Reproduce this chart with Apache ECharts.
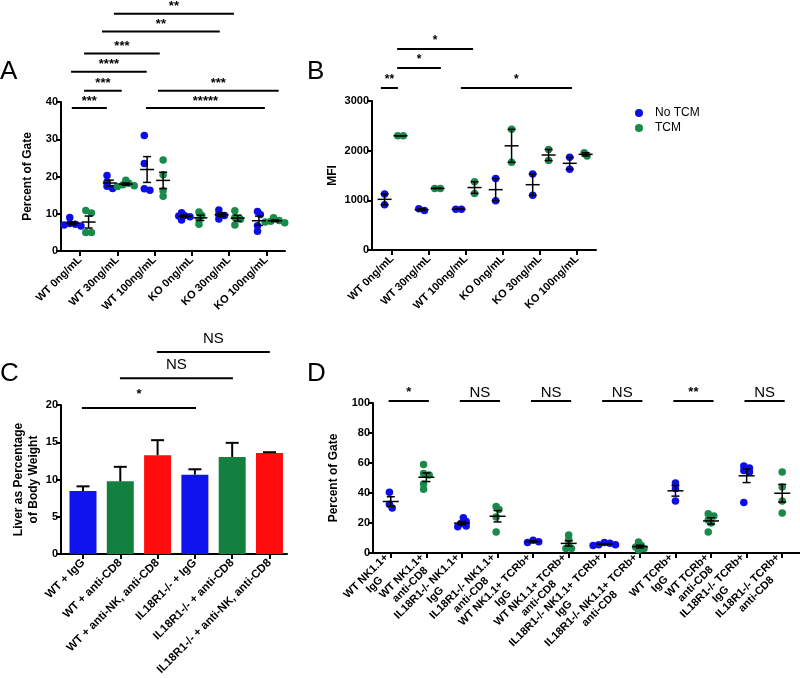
<!DOCTYPE html>
<html><head><meta charset="utf-8">
<script src="https://cdn.jsdelivr.net/npm/echarts@6/dist/echarts.min.js"></script>
<style>html,body{margin:0;padding:0;background:#fff}#c{width:800px;height:678px}</style>
</head><body><div id="c"></div>
<script>
// ---------- DATA ----------
const catsA = ['WT 0ng/mL','WT 30ng/mL','WT 100ng/mL','KO 0ng/mL','KO 30ng/mL','KO 100ng/mL'];
const aNoTCM = [[7.4,7.0,6.7,7.2,9.0],[20.3,18.5,17.4,16.8],[31.0,23.5,16.3,16.7],[9.5,9.2,8.3,9.4,10.3],[11.0,9.8,8.6,9.5],[10.6,9.8,5.3,6.8]];
const aTCM   = [[10.9,10.2,5.0,5.0],[18.2,17.8,17.3,17.5,19.0],[24.4,20.5,14.7,16.2],[10.5,9.5,8.4,7.2],[10.8,9.0,8.5,7.0],[8.9,8.2,7.6,7.8,8.0]];
const yTicksA = [0,10,20,30,40];

const catsB = ['WT 0ng/mL','WT 30ng/mL','WT 100ng/mL','KO 0ng/mL','KO 30ng/mL','KO 100ng/mL'];
const bNoTCM = [[1130,910],[795,830],[820,820],[1440,990],[1530,1100],[1865,1625]];
const bTCM   = [[2300,2300],[1240,1240],[1375,1140],[2430,1765],[2025,1800],[1893,1960]];
const yTicksB = [0,1000,2000,3000];

const catsC = ['WT + IgG','WT + anti-CD8','WT + anti-NK, anti-CD8','IL18R1-/- + IgG','IL18R1-/- + anti-CD8','IL18R1-/- + anti-NK, anti-CD8'];
const cMean = [8.45,9.75,13.26,10.65,13.03,13.57];
const cSem  = [0.63,1.95,2.02,0.72,1.89,0.09];
const cGroup = ['blue','green','red','blue','green','red'];
const yTicksC = [0,5,10,15,20];

const catsD = ['WT NK1.1+\nIgG','WT NK1.1+\nanti-CD8','IL18R1-/- NK1.1+\nIgG','IL18R1-/- NK1.1+\nanti-CD8',
  'WT NK1.1+ TCRb+\nIgG','WT NK1.1+ TCRb+\nanti-CD8','IL18R1-/- NK1.1+ TCRb+\nIgG','IL18R1-/- NK1.1+ TCRb+\nanti-CD8',
  'WT TCRb+\nIgG','WT TCRb+\nanti-CD8','IL18R1-/- TCRb+\nIgG','IL18R1-/- TCRb+\nanti-CD8'];
const dVals = [[40.5,30,32.5],[59,53,52,46,42.5],[23.5,21,19.5,18,17.5],[31,29,24,14],
  [8.5,7,7.5],[12,9,5,3,3],[7,6.5,5.5,5,5.5],[7.3,5,2,3,4],
  [46.7,43,34.7],[24.7,26.2,22,14,20],[58,56.7,54,55,33.6],[54,44,34.7,26.7]];
const yTicksD = [0,20,40,60,80,100];

// significance annotations: [from, to, level, text] in data units
const sigA = [[-0.22,0.72,38.4,'***'],[0.11,1.12,43.0,'***'],[-0.24,1.79,48.1,'****'],[0.11,2.14,53.0,'***'],
  [0.59,3.75,58.9,'**'],[0.91,4.13,63.7,'**'],[1.77,4.96,38.4,'*****'],[2.09,5.33,43.0,'***']];
const sigB = [[-0.30,0.16,3262,'**'],[0.14,1.32,3664,'*'],[0.14,2.19,4047,'*'],[1.86,4.86,3262,'*']];
const sigC = [[-0.03,3.03,19.6,'*'],[0.99,4.02,23.6,'NS'],[1.98,5.01,27.1,'NS']];
const sigD = [[-0.06,1.07,101.3,'*'],[1.94,3.07,101.3,'NS'],[3.94,5.07,101.3,'NS'],[5.94,7.07,101.3,'NS'],[7.94,9.07,101.3,'**'],[9.94,11.07,101.3,'NS']];

// ---------- STYLE / LAYOUT ----------
const BLUE = '#0d0de6', GREEN = '#1a8a4a';
const BARC = {blue:'#0f14ee', green:'#13803f', red:'#ff0d0d'};
const FONT = '"Liberation Sans", Arial, sans-serif';
const G = [
  {left:61, top:102, width:224, height:149, xmin:-0.51, xmax:5.5},
  {left:372, top:101, width:224, height:149, xmin:-0.54, xmax:5.51},
  {left:61, top:405, width:226, height:149, xmin:-0.59, xmax:5.47},
  {left:373, top:403, width:427, height:150, xmin:-0.5, xmax:11.5}
];
const YR = [[0,40],[0,3000],[0,20],[0,100]];
const DIAM = 7.5, STEP = 2.8, MINDIST = 4;

function stats(arr){
  const n=arr.length, m=arr.reduce((a,b)=>a+b,0)/n;
  const sd=Math.sqrt(arr.reduce((s,v)=>s+(v-m)*(v-m),0)/(n-1));
  return [m, sd/Math.sqrt(n)];
}
function swarm(vals, cx, gi){
  const g=G[gi];
  const pxX = g.width/(g.xmax-g.xmin), pxY = g.height/(YR[gi][1]-YR[gi][0]);
  const order = vals.map((v,i)=>i).sort((a,b)=>vals[b]-vals[a]);
  const placed=[], offs=new Array(vals.length);
  for(const i of order){
    const y=vals[i]*pxY; let best=0;
    for(let k=0;k<30;k++){
      const off=(k%2===1?1:-1)*Math.ceil(k/2)*STEP;
      if(placed.every(p=>Math.hypot(p[0]-off,p[1]-y)>=MINDIST)){best=off;break;}
    }
    placed.push([best,y]); offs[i]=best;
  }
  const shift=(Math.min(...offs)+Math.max(...offs))/2;
  return vals.map((v,i)=>[cx+(offs[i]-shift)/pxX, v]);
}

const series=[];
function addDots(gi, groups, offset, color, name, filter){
  let data=[];
  groups.forEach((vals,i)=>{ if(filter && !filter(i)) return; data=data.concat(swarm(vals, i+offset, gi)); });
  series.push({type:'scatter', name, xAxisIndex:gi, yAxisIndex:gi, data, symbolSize:DIAM,
    itemStyle:{color, opacity:1}, z:2, silent:true});
}
function addErr(gi, groups, offset, halfW, filter){
  const data=[];
  groups.forEach((vals,i)=>{ if(filter && !filter(i)) return; const s=stats(vals); data.push([i+offset, s[0], s[1]]); });
  series.push({type:'custom', xAxisIndex:gi, yAxisIndex:gi, data, z:3, silent:true, clip:false,
    renderItem:(p,api)=>{
      const x=api.value(0), m=api.value(1), s=api.value(2);
      const pm=api.coord([x,m]), pt=api.coord([x,m+s]), pb=api.coord([x,m-s]);
      const st={stroke:'#000', lineWidth:1.5};
      return {type:'group', children:[
        {type:'line', shape:{x1:pm[0]-halfW,y1:pm[1],x2:pm[0]+halfW,y2:pm[1]}, style:st},
        {type:'line', shape:{x1:pt[0],y1:pt[1],x2:pb[0],y2:pb[1]}, style:st},
        {type:'line', shape:{x1:pt[0]-4,y1:pt[1],x2:pt[0]+4,y2:pt[1]}, style:st},
        {type:'line', shape:{x1:pb[0]-4,y1:pb[1],x2:pb[0]+4,y2:pb[1]}, style:st}
      ]};
    }});
}
function addSig(gi, sig, fontSize, gapStar, gapNS){
  series.push({type:'custom', xAxisIndex:gi, yAxisIndex:gi, data:sig.map(s=>[s[0],s[2],s[1]]), clip:false, silent:true, z:4,
    renderItem:(p,api)=>{
      const s=sig[p.dataIndex];
      const a=api.coord([s[0],s[2]]), b=api.coord([s[1],s[2]]);
      const isNS = s[3]==='NS';
      return {type:'group', children:[
        {type:'line', shape:{x1:a[0],y1:a[1],x2:b[0],y2:b[1]}, style:{stroke:'#000', lineWidth:2}},
        {type:'text', x:(a[0]+b[0])/2, y:a[1]-(isNS?gapNS:gapStar),
          style:{text:s[3], fill:'#000', font:(isNS?'normal 15px ':'bold '+fontSize+'px ')+FONT, align:'center', verticalAlign:'middle'}}
      ]};
    }});
}

// Panel A
addDots(0, aNoTCM, -0.2, BLUE, 'No TCM');
addDots(0, aTCM, 0.23, GREEN, 'TCM');
addErr(0, aNoTCM, -0.2, 7); addErr(0, aTCM, 0.23, 7);
addSig(0, sigA, 13, 7, 12);
// Panel B
addDots(1, bNoTCM, -0.2, BLUE, 'No TCM');
addDots(1, bTCM, 0.23, GREEN, 'TCM');
addErr(1, bNoTCM, -0.2, 7); addErr(1, bTCM, 0.23, 7);
addSig(1, sigB, 12, 8, 12);
// Panel C
series.push({type:'bar', xAxisIndex:2, yAxisIndex:2, barWidth:27, silent:true,
  data:cMean.map((v,i)=>({value:[i,v], itemStyle:{color:BARC[cGroup[i]]}}))});
series.push({type:'custom', xAxisIndex:2, yAxisIndex:2, data:cMean.map((v,i)=>[i,v,cSem[i]]), z:3, silent:true, clip:false,
  renderItem:(p,api)=>{
    const x=api.value(0), m=api.value(1), s=api.value(2);
    const pm=api.coord([x,m]), pt=api.coord([x,m+s]);
    const st={stroke:'#000', lineWidth:2};
    return {type:'group', children:[
      {type:'line', shape:{x1:pm[0],y1:pm[1],x2:pt[0],y2:pt[1]}, style:st},
      {type:'line', shape:{x1:pt[0]-6.5,y1:pt[1],x2:pt[0]+6.5,y2:pt[1]}, style:st}
    ]};
  }});
addSig(2, sigC, 13, 14, 13);
// Panel D
addDots(3, dVals, 0, BLUE, 'No TCM', i=>i%2===0);
addDots(3, dVals, 0, GREEN, 'TCM', i=>i%2===1);
addErr(3, dVals, 0, 8);
addSig(3, sigD, 13, 9, 8);

const cats=[catsA,catsB,catsC,catsD];
const yTicks=[yTicksA,yTicksB,yTicksC,yTicksD];
const names=['Percent of Gate','MFI','Liver as Percentage\nof Body Weight','Percent of Gate'];
const nameGaps=[26,30,20,28];
const labelSize=[11,11,11.5,11];
const axisLine={show:true, onZero:false, lineStyle:{color:'#000', width:2}};
const xAxis=G.map((g,i)=>{
  const ticks=cats[i].map((c,j)=>j);
  return {type:'value', gridIndex:i, min:g.xmin, max:g.xmax, axisLine,
    splitLine:{show:false},
    axisTick:{show:true, customValues:ticks, length:5, lineStyle:{color:'#000', width:2}},
    axisLabel:{show:true, customValues:ticks, rotate:45, margin:7, color:'#000', fontWeight:'bold',
      fontSize:labelSize[i], fontFamily:FONT, lineHeight:12,
      formatter:v=>cats[i][Math.round(v)].split('\n').map(s=>'{c|'+s+'}').join('\n'),
      rich:{c:{align:'center', fontSize:labelSize[i], fontWeight:'bold', fontFamily:FONT, color:'#000', lineHeight:12}}}};
});
const yAxis=G.map((g,i)=>({type:'value', gridIndex:i, min:YR[i][0], max:YR[i][1],
  interval:yTicks[i][1]-yTicks[i][0], axisLine, splitLine:{show:false},
  axisTick:{show:true, length:5, lineStyle:{color:'#000', width:2}},
  axisLabel:{color:'#000', fontWeight:'bold', fontSize:11, fontFamily:FONT, margin:3, formatter:v=>String(v)},
  name:names[i], nameLocation:'middle', nameGap:nameGaps[i], nameRotate:90,
  nameTextStyle:{color:'#000', fontWeight:'bold', fontSize:12, fontFamily:FONT, lineHeight:15}}));

const letters=[['A',0,59],['B',307,59],['C',0,361],['D',307,361]];
const chart=echarts.init(document.getElementById('c'), null, {renderer:'canvas'});
chart.setOption({
  animation:false, backgroundColor:'#fff',
  title:letters.map(l=>({text:l[0], left:l[1], top:l[2], padding:0,
    textStyle:{fontSize:26, fontWeight:'normal', color:'#000', fontFamily:FONT}})),
  legend:{data:['No TCM','TCM'], left:630, top:102, orient:'vertical', itemWidth:22, itemHeight:8, itemGap:3,
    icon:'circle', selectedMode:false, textStyle:{fontSize:12, color:'#000', fontFamily:FONT}},
  grid:G.map(g=>({left:g.left, top:g.top, width:g.width, height:g.height, containLabel:false})),
  xAxis, yAxis, series
});
</script></body></html>
